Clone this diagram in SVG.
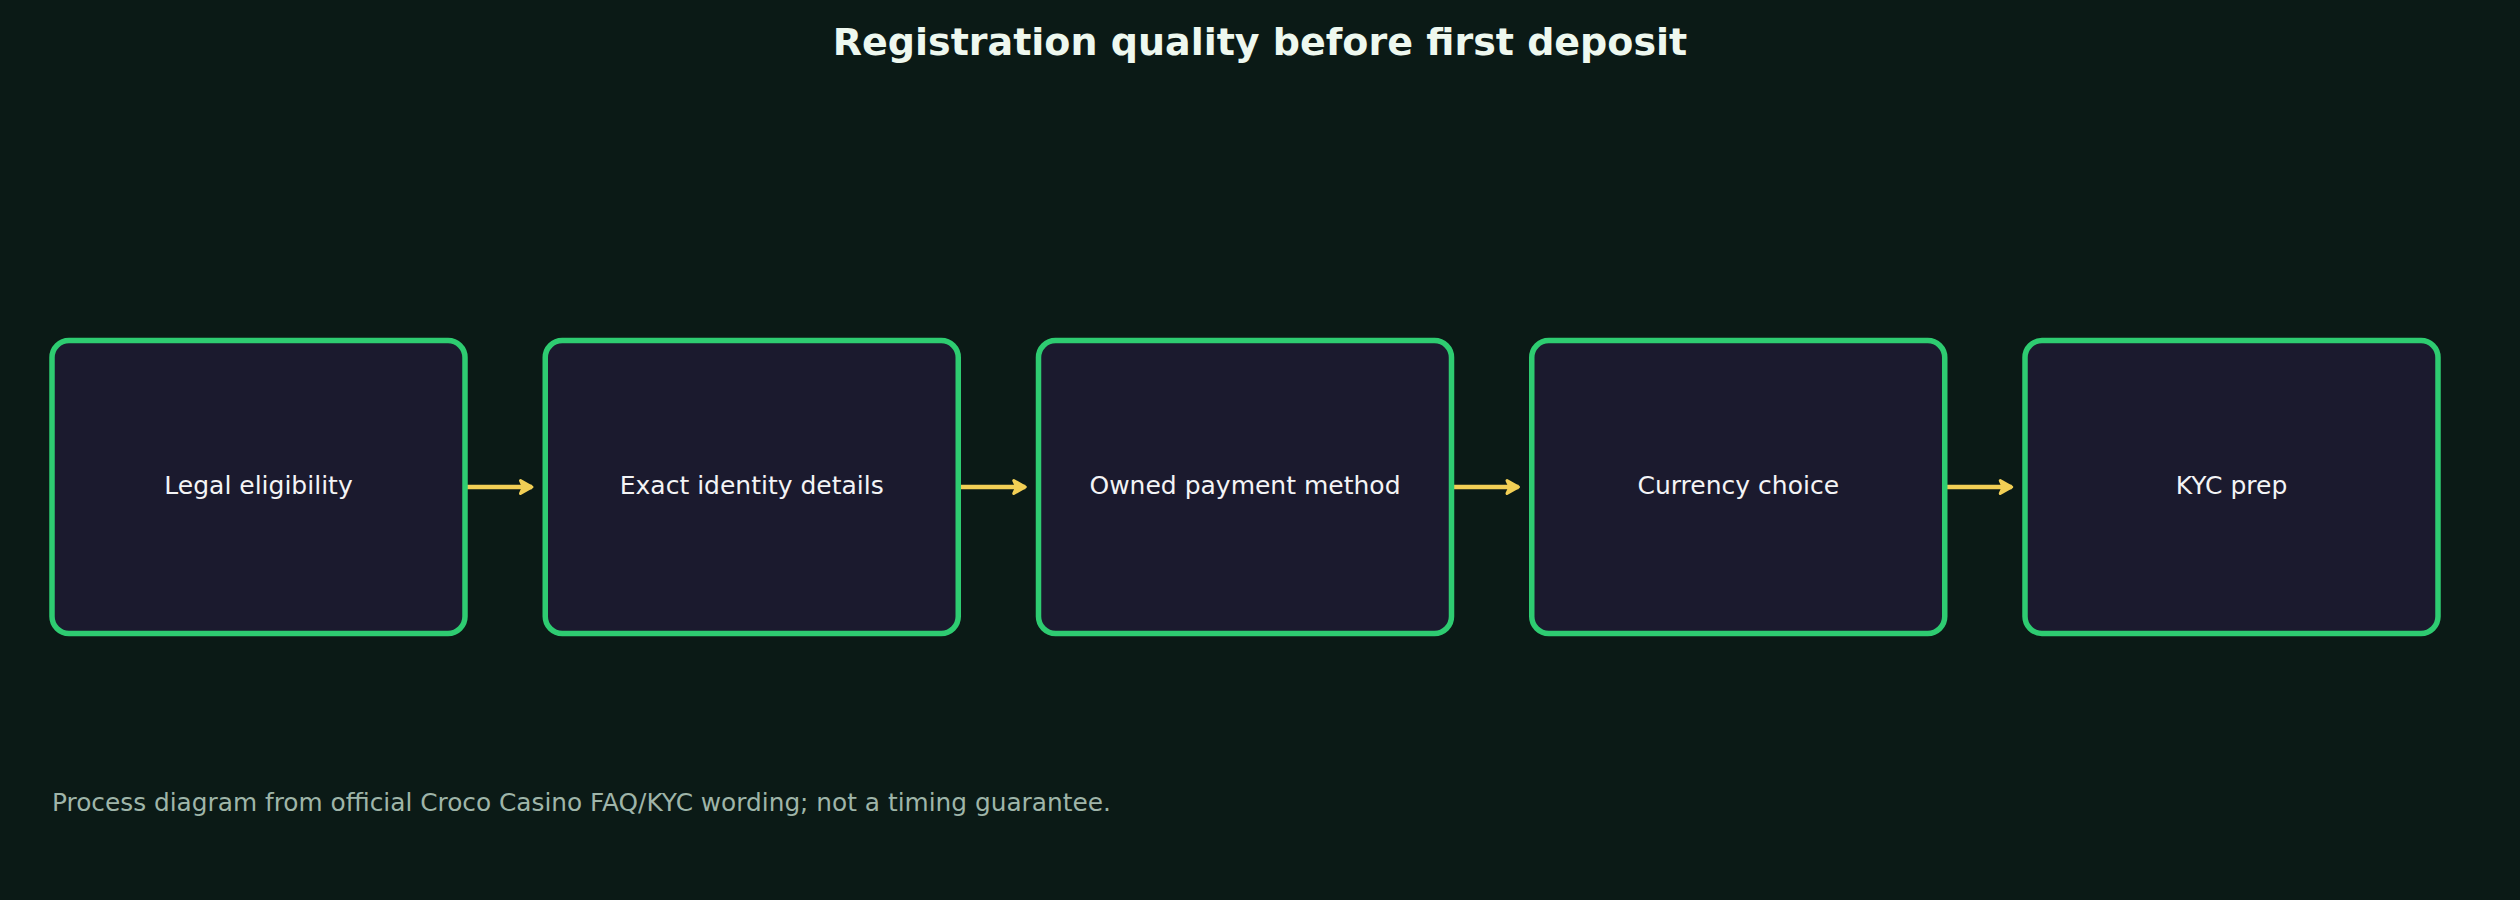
<svg xmlns="http://www.w3.org/2000/svg" width="2520" height="900" viewBox="0 0 2520 900">
  <style>
    .bg { fill: #0b1a16; }
    .title { font-family: "DejaVu Sans", sans-serif; font-size: 38px; font-weight: bold; fill: #eef8ef; text-anchor: middle; }
    .box { fill: #1b1a2e; stroke: #2ecc71; stroke-width: 5.5; }
    .label { font-family: "DejaVu Sans", sans-serif; font-size: 25px; fill: #f4f4f6; text-anchor: middle; }
    .edge { stroke: #f2cf55; stroke-width: 4.5; fill: none; }
    .foot { font-family: "DejaVu Sans", sans-serif; font-size: 24.8px; fill: #9fb5a9; }
  </style>
  <defs>
    <marker id="arrow" viewBox="0 0 18 18" refX="15" refY="9" markerWidth="18" markerHeight="18" orient="auto" markerUnits="userSpaceOnUse">
      <path d="M3.5,2.5 L15,9 L3.5,15.5 L6.5,9 Z" fill="#f2cf55" stroke="#f2cf55" stroke-width="3" stroke-linejoin="round"/>
    </marker>
  </defs>
  <rect class="bg" x="0" y="0" width="2520" height="900"/>
  <text class="title" x="1260" y="55">Registration quality before first deposit</text>

  <g id="connectors">
    <line class="edge" x1="465.5" y1="487" x2="532" y2="487" marker-end="url(#arrow)"/>
    <line class="edge" x1="958.75" y1="487" x2="1025.25" y2="487" marker-end="url(#arrow)"/>
    <line class="edge" x1="1452" y1="487" x2="1518.5" y2="487" marker-end="url(#arrow)"/>
    <line class="edge" x1="1945.25" y1="487" x2="2011.75" y2="487" marker-end="url(#arrow)"/>
  </g>

  <g id="node-legal">
    <rect class="box" x="52" y="340.5" width="413" height="293" rx="17"/>
    <text class="label" x="258.5" y="493.5">Legal eligibility</text>
  </g>
  <g id="node-identity">
    <rect class="box" x="545.25" y="340.5" width="413" height="293" rx="17"/>
    <text class="label" x="751.75" y="493.5">Exact identity details</text>
  </g>
  <g id="node-payment">
    <rect class="box" x="1038.5" y="340.5" width="413" height="293" rx="17"/>
    <text class="label" x="1245" y="493.5">Owned payment method</text>
  </g>
  <g id="node-currency">
    <rect class="box" x="1531.75" y="340.5" width="413" height="293" rx="17"/>
    <text class="label" x="1738.25" y="493.5">Currency choice</text>
  </g>
  <g id="node-kyc">
    <rect class="box" x="2025" y="340.5" width="413" height="293" rx="17"/>
    <text class="label" x="2231.5" y="493.5">KYC prep</text>
  </g>

  <text class="foot" x="52" y="811">Process diagram from official Croco Casino FAQ/KYC wording; not a timing guarantee.</text>
</svg>
